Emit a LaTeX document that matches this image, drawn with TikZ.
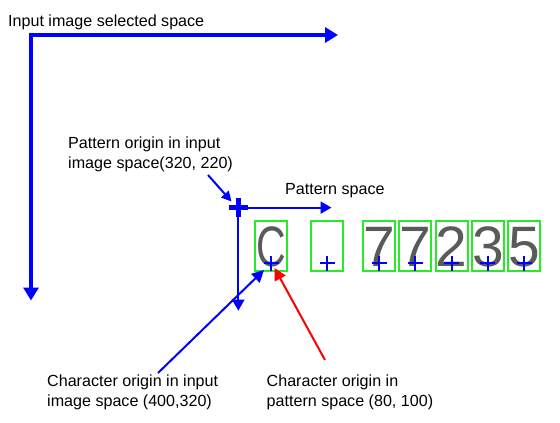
\documentclass[tikz,border=0pt]{standalone}
\usepackage{fontspec}
\setmainfont{Liberation Sans}
\usetikzlibrary{arrows.meta}
\definecolor{pblue}{RGB}{0,0,255}
\definecolor{pred}{RGB}{255,0,0}
\definecolor{pgreen}{RGB}{40,235,40}
\definecolor{glyphc}{RGB}{90,90,90}
\begin{document}
\begin{tikzpicture}[x=1pt,y=-1pt,
  lbl/.style={inner sep=0pt, anchor=north west, align=left, font=\fontsize{16.1}{20}\selectfont},
  bigaxis/.style={pblue, line width=4.5pt, line join=miter, {Triangle[length=13pt,width=15pt]}-{Triangle[length=13pt,width=15pt]}},
  paxis/.style={pblue, line width=2.2pt, -{Triangle[length=11pt,width=12pt]}},
  pointer/.style={line width=2pt, -{Triangle[length=12pt,width=12pt]}},
  charbox/.style={draw=pgreen, line width=2pt, minimum width=32pt, minimum height=49.5pt, inner sep=0pt},
  glyph/.style={inner sep=0pt, anchor=base, text=glyphc, font=\fontsize{57}{57}\selectfont},
  plusmark/.style={pblue, line width=2pt},
]
\useasboundingbox (0,0) rectangle (560,423);

% labels
\node[lbl] (tin) at (8,14.3) {Input image selected space};
\node[lbl] (tpo) at (68,136.5) {Pattern origin in input\\image space(320, 220)};
\node[lbl] (tps) at (285,183.3) {Pattern space};
\node[lbl] (tci) at (47,374.9) {Character origin in input\\image space (400,320)};
\node[lbl] (tcp) at (266.5,374.9) {Character origin in\\pattern space (80, 100)};

% big axes
\coordinate (O) at (31,35);
\coordinate (OX) at (338,35);
\coordinate (OY) at (31,300.5);
\draw[bigaxis] (OX) -- (O) -- (OY);

% pattern origin and axes
\coordinate (P) at (238.3,207.6);
\coordinate (PX) at (331.5,207.6);
\coordinate (PY) at (238.3,310.7);
\draw[paxis] (P) -- (PX);
\draw[paxis] (P) -- (PY);
\draw[pblue, line width=4.5pt] ([xshift=-9.5pt]P) -- ([xshift=9.5pt]P);
\draw[pblue, line width=4.5pt] ([yshift=9.5pt]P) -- ([yshift=-9.5pt]P);

% character boxes
\foreach \i/\x/\ch in {1/271.3/{\scalebox{0.72}[1]{C}}, 2/327/{}, 3/379/7, 4/415.3/7, 5/451.8/2, 6/487.9/3, 7/524.2/5}{
  \node[charbox] (b\i) at (\x,246) {};
  \node[glyph] (g\i) at (\x,266) {\ch};
  \coordinate (c\i) at ([yshift=8.5pt]b\i.south);
  \draw[plusmark] ([xshift=-7.5pt]c\i) -- ([xshift=7.5pt]c\i);
  \draw[plusmark] ([yshift=-7.5pt]c\i) -- ([yshift=7.5pt]c\i);
}

% pointers
\coordinate (s1) at (208,175);
\coordinate (e1) at (231.5,201.5);
\draw[pointer, pblue, -{Triangle[length=10pt,width=10pt]}] (s1) -- (e1);

\coordinate (s2) at (158,373);
\coordinate (e2) at (264,270);
\draw[pointer, pblue] (s2) -- (e2);

\coordinate (s3) at (325,360);
\coordinate (e3) at (274.5,268);
\draw[pointer, pred] (s3) -- (e3);
\end{tikzpicture}
\end{document}
